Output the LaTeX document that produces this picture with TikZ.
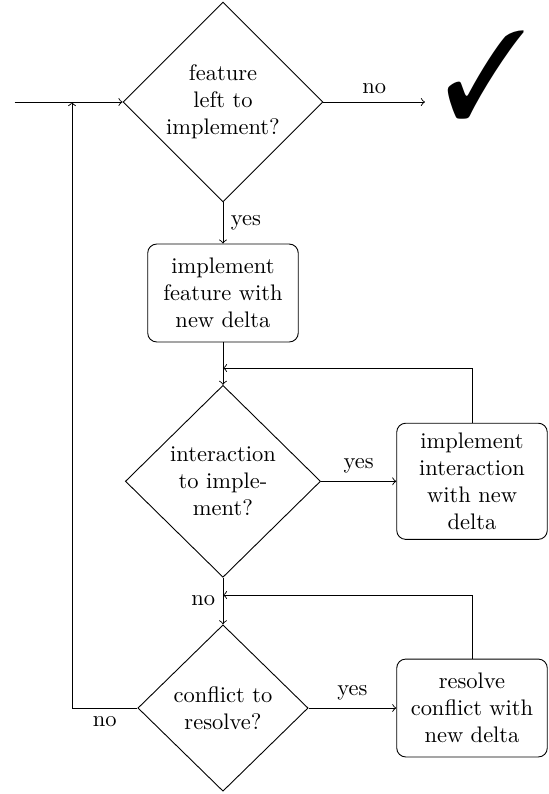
\documentclass[tikz,border=0pt]{standalone}
\usepackage{pifont}
\usetikzlibrary{shapes.geometric}

\tikzset{
  decision/.style={diamond, draw, align=center, inner sep=0pt, aspect=1},
  process/.style={rectangle, draw, rounded corners, align=center, text width=2.05cm, inner sep=4.3pt, minimum height=1.53cm},
}

\begin{document}
\begin{tikzpicture}
\useasboundingbox (0,0) rectangle (8.5625,-12.406);
\node[decision, minimum width=3.125cm, minimum height=3.125cm] (feat) at (3.484,-1.594) {feature\\left to\\implement?};
\node[process] (featbox) at (3.484,-4.578) {implement feature with new delta};
\node[decision, minimum width=3.05cm, minimum height=3.0cm] (inter) at (3.484,-7.52) {interaction\\to imple-\\ment?};
\node[process] (interbox) at (7.375,-7.52) {implement interaction with new delta};
\node[decision, minimum width=2.66cm, minimum height=2.6cm] (confl) at (3.484,-11.0625) {conflict to\\resolve?};
\node[process] (conflbox) at (7.375,-11.0625) {resolve conflict with new delta};
\node[inner sep=0pt] (check) at (7.6,-1.17) {\resizebox{1.3cm}{1.36cm}{\ding{51}}};

\coordinate (start) at (0.23,-1.594);
\coordinate (done) at (6.64,-1.594);
\coordinate (loop) at (1.125,-1.594);
\coordinate (join1) at (3.484,-5.75);
\coordinate (join2) at (3.484,-9.297);

\draw[->] (start) -- (feat);
\draw[->] (feat) -- node[above] {no} (done);
\draw[->] (feat) -- node[right] {yes} (featbox);
\draw[->] (featbox) -- (inter);
\draw[->] (inter) -- node[above] {yes} (interbox);
\draw[->] (interbox.north) |- (join1);
\draw[->] (inter) -- node[left] {no} (confl);
\draw[->] (confl) -- node[above] {yes} (conflbox);
\draw[->] (conflbox.north) |- (join2);
\draw[->] (confl.west) -| node[pos=0.25, below] {no} (loop);
\end{tikzpicture}
\end{document}
